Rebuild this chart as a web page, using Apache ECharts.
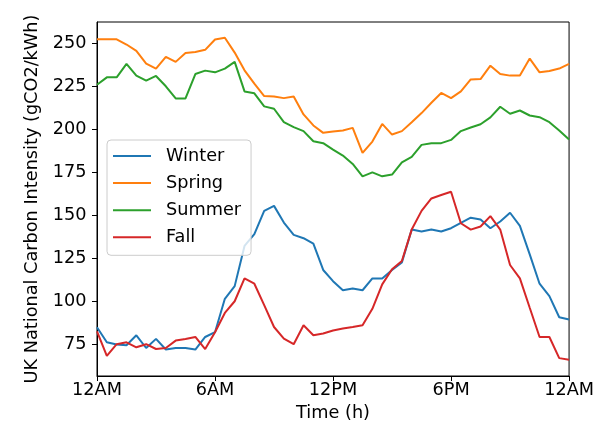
<!DOCTYPE html>
<html>
<head>
<meta charset="utf-8">
<script src="https://cdn.jsdelivr.net/npm/echarts@6/dist/echarts.min.js"></script>
<style>
  html, body { margin: 0; padding: 0; background: #fff; }
  #chart { width: 597px; height: 428px; }
</style>
</head>
<body>
<div id="chart"></div>
<script>
// Half-hourly average carbon intensity by season (gCO2/kWh), 00:00 through 24:00
const seasons = ['Winter', 'Spring', 'Summer', 'Fall'];
const colors = ['#1f77b4', '#ff7f0e', '#2ca02c', '#d62728'];

const winter = [84.9, 76.1, 74.8, 74.4, 80.2, 72.8, 78.1, 71.9, 72.8, 72.8, 71.9, 79.2, 82.0,
  101.4, 108.8, 132.2, 139.0, 152.6, 155.5, 145.8, 138.6, 136.7, 133.5, 118.2, 111.7,
  106.4, 107.4, 106.4, 113.3, 113.3, 118.2, 122.6, 141.7, 140.6, 141.7, 140.6, 142.5,
  145.6, 148.6, 147.6, 142.5, 146.4, 151.5, 143.9, 127.3, 110.2, 103.0, 90.7, 89.4];

const spring = [252.4, 252.4, 252.4, 249.4, 245.7, 238.3, 235.4, 242.2, 239.3, 244.5, 245.1, 246.3, 252.3,
  253.3, 244.7, 234.4, 226.6, 219.4, 219.2, 218.2, 219.2, 208.7, 202.3, 198.0, 198.8,
  199.4, 200.9, 186.3, 192.9, 203.2, 197.0, 199.0, 204.2, 209.5, 215.5, 221.2, 218.2,
  222.1, 229.1, 229.3, 237.1, 232.2, 231.3, 231.3, 241.2, 233.2, 234.0, 235.4, 238.1];

const summer = [226.0, 230.3, 230.3, 238.1, 231.3, 228.4, 231.1, 225.1, 218.0, 218.0, 232.2, 234.2, 233.2,
  235.4, 239.3, 222.1, 221.0, 213.4, 212.0, 204.2, 201.3, 199.0, 193.1, 192.0, 188.2,
  184.8, 179.9, 172.7, 175.0, 172.7, 173.7, 180.8, 184.0, 191.0, 192.0, 192.0, 193.9,
  199.0, 201.1, 203.0, 207.0, 213.2, 209.1, 211.0, 208.1, 207.1, 204.2, 199.4, 194.1];

const fall = [82.5, 68.2, 75.0, 76.1, 73.2, 75.0, 72.2, 72.8, 77.1, 78.0, 79.2, 72.2, 82.0,
  93.2, 100.0, 113.3, 110.2, 97.7, 85.0, 78.3, 75.0, 86.0, 80.2, 81.2, 83.0,
  84.1, 85.0, 86.0, 95.6, 109.8, 118.6, 123.4, 141.7, 152.6, 159.8, 161.8, 163.7,
  145.4, 141.7, 143.5, 149.5, 141.7, 121.1, 113.3, 96.2, 79.2, 79.2, 66.9, 66.0];

// Time of each sample in hours (half-hour steps)
const hours = winter.map((_, i) => i * 0.5);

const xTickHours = [0, 6, 12, 18, 24];
const xTickLabels = ['12AM', '6AM', '12PM', '6PM', '12AM'];
const yTicks = [75, 100, 125, 150, 175, 200, 225, 250];

const seriesValues = [winter, spring, summer, fall];

const font = 'DejaVu Sans';
const fs = 17.7;
const chart = echarts.init(document.getElementById('chart'), null, { renderer: 'canvas' });

chart.setOption({
  animation: false,
  backgroundColor: '#fff',
  textStyle: { fontFamily: font },
  grid: {
    left: 97, right: 26, top: 22, bottom: 52,
    show: true, borderColor: '#000', borderWidth: 1, backgroundColor: 'transparent'
  },
  legend: {
    orient: 'vertical',
    left: 107, top: 140,
    data: seasons,
    icon: 'rect',
    itemWidth: 38, itemHeight: 2,
    itemGap: 9.1,
    padding: [7, 10, 9, 6],
    backgroundColor: 'rgba(255,255,255,0.8)',
    borderColor: '#cccccc', borderWidth: 1, borderRadius: 4,
    textStyle: { fontFamily: font, fontSize: fs, color: '#000', padding: [0, 0, 0, 10], lineHeight: 18 }
  },
  xAxis: {
    type: 'value',
    min: 0, max: 24, interval: 6,
    name: 'Time (h)', nameLocation: 'middle', nameGap: 27,
    nameTextStyle: { fontFamily: font, fontSize: fs, color: '#000' },
    axisLine: { show: true, lineStyle: { color: '#000', width: 1 } },
    axisTick: { show: true, length: 5, lineStyle: { color: '#000' } },
    axisLabel: {
      fontFamily: font, fontSize: fs, color: '#000', margin: 5,
      formatter: v => xTickLabels[xTickHours.indexOf(v)] ?? ''
    },
    splitLine: { show: false }
  },
  yAxis: {
    type: 'value',
    min: 56.5, max: 262.5,
    name: 'UK National Carbon Intensity (gCO2/kWh)', nameLocation: 'middle', nameGap: 50,
    nameTextStyle: { fontFamily: font, fontSize: fs, color: '#000' },
    axisLine: { show: true, lineStyle: { color: '#000', width: 1 } },
    axisTick: { show: true, length: 5, lineStyle: { color: '#000' }, customValues: yTicks },
    axisLabel: { fontFamily: font, fontSize: fs, color: '#000', margin: 10.5, customValues: yTicks },
    splitLine: { show: false }
  },
  series: seasons.map((name, k) => ({
    name,
    type: 'line',
    data: seriesValues[k].map((v, i) => [hours[i], v]),
    showSymbol: false,
    symbol: 'none',
    lineStyle: { color: colors[k], width: 2 },
    itemStyle: { color: colors[k] },
    z: 2 + k
  }))
});
</script>
</body>
</html>
